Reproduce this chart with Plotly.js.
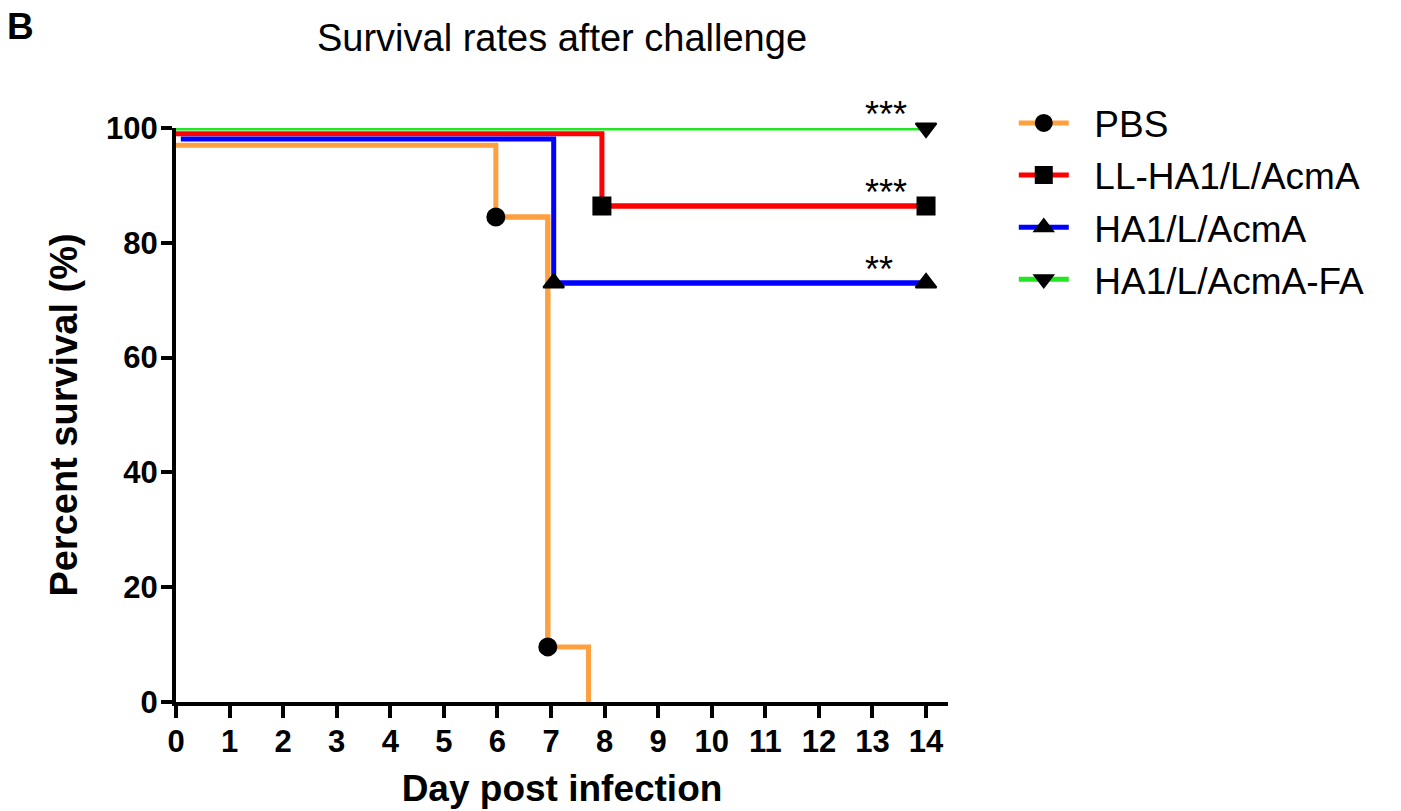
<!DOCTYPE html>
<html>
<head>
<meta charset="utf-8">
<script src="https://cdn.plot.ly/plotly-3.0.1.min.js"></script>
<style>html,body{margin:0;padding:0;background:#fff;}#chart{width:1401px;height:811px;}</style>
</head>
<body>
<div id="chart"></div>
<script>
// ---- data ----
const seriesNames = ["PBS", "LL-HA1/L/AcmA", "HA1/L/AcmA", "HA1/L/AcmA-FA"];
// full Kaplan-Meier step curves (day, percent survival)
const pbsDays = [0, 5.97, 6.94, 7.7];
const pbsSurv = [97, 84.5, 9.6, 0];
const llDays = [0, 7.95, 14];
const llSurv = [99, 86.4, 86.4];
const ha1Days = [0.09, 7.05, 14];
const ha1Surv = [98.1, 73, 73];
const faDays = [0, 14];
const faSurv = [100, 100];
// marked points
const pbsMarkDays = [5.97, 6.94];
const pbsMarkSurv = [84.5, 9.6];
const llMarkDays = [7.95, 14];
const llMarkSurv = [86.4, 86.4];
const ha1MarkDays = [7.05, 14];
const ha1MarkSurv = [73, 73];
const faMarkDays = [14];
const faMarkSurv = [100];
// significance labels (one per series, PBS has none)
const sigLabels = ["", "***", "**", "***"];
const xTicks = [0,1,2,3,4,5,6,7,8,9,10,11,12,13,14];
const yTicks = [0,20,40,60,80,100];

const FONT = "Liberation Sans, Arial, Helvetica, sans-serif";
const colors = ["#FFA040", "#FF0000", "#0000FF", "#22E622"];
const symbols = ["circle", "square", "triangle-up", "triangle-down"];
const msizes = [17, 17, 18, 18];
const NBSP = "\u00A0";

const lineSets = [[pbsDays, pbsSurv], [llDays, llSurv], [ha1Days, ha1Surv], [faDays, faSurv]];
const markSets = [[pbsMarkDays, pbsMarkSurv], [llMarkDays, llMarkSurv], [ha1MarkDays, ha1MarkSurv], [faMarkDays, faMarkSurv]];

const traces = [];
lineSets.forEach((s, i) => {
  traces.push({
    type: "scatter", mode: "lines", x: s[0], y: s[1],
    line: {color: colors[i], width: 5, shape: "hv"},
    showlegend: false, legendgroup: "g" + i, cliponaxis: false, hoverinfo: "skip"
  });
});
markSets.forEach((s, i) => {
  traces.push({
    type: "scatter", mode: "lines+markers", x: s[0], y: s[1], name: NBSP + NBSP + seriesNames[i],
    line: {color: colors[i], width: 5, shape: "hv"},
    marker: {symbol: symbols[i], size: msizes[i], color: "#000000", line: {width: 2, color: "#000000"}},
    legendgroup: "g" + i, cliponaxis: false
  });
});

// significance annotations placed just above the last point of each series
const annotations = [
  {text: "B", xref: "paper", yref: "paper", x: -0.2008, y: 1.1777, xanchor: "center", yanchor: "middle",
   showarrow: false, font: {family: FONT, size: 37, weight: "bold", color: "#000000"}}
];
markSets.forEach((s, i) => {
  if (!sigLabels[i]) return;
  const n = s[0].length - 1;
  annotations.push({
    text: sigLabels[i], xref: "x", yref: "y", x: 12.82, y: s[1][n], xanchor: "left", yanchor: "middle",
    yshift: 13.5, showarrow: false, font: {family: FONT, size: 36, color: "#000000"}
  });
});

const layout = {
  width: 1401, height: 811,
  paper_bgcolor: "#ffffff", plot_bgcolor: "#ffffff",
  margin: {l: 176, r: 453, t: 128, b: 109},
  font: {family: FONT, color: "#000000"},
  title: {
    text: "Survival rates after challenge",
    font: {family: FONT, size: 38, color: "#000000"},
    x: 0.5, xref: "paper", xanchor: "center",
    y: 0.954, yref: "container", yanchor: "middle"
  },
  xaxis: {
    range: [0, 14.41], tickmode: "array", tickvals: xTicks, ticktext: xTicks.map(String),
    showgrid: false, zeroline: false, showline: true, linewidth: 4, linecolor: "#000000",
    ticks: "outside", ticklen: 12, tickwidth: 4, tickcolor: "#000000",
    tickfont: {family: FONT, size: 31, weight: "bold", color: "#000000"},
    ticklabelstandoff: -3,
    title: {text: "Day post infection", font: {family: FONT, size: 37, weight: "bold", color: "#000000"}, standoff: 18},
    fixedrange: true
  },
  yaxis: {
    range: [0, 100], tickmode: "array", tickvals: yTicks, ticktext: yTicks.map(String),
    showgrid: false, zeroline: false, showline: true, linewidth: 4, linecolor: "#000000",
    ticks: "outside", ticklen: 11, tickwidth: 4, tickcolor: "#000000",
    tickfont: {family: FONT, size: 31, weight: "bold", color: "#000000"},
    ticklabelstandoff: -3,
    title: {text: "Percent survival (%)", font: {family: FONT, size: 38, weight: "bold", color: "#000000"}, standoff: 18},
    fixedrange: true
  },
  legend: {
    x: 1.0852, xanchor: "left", y: 1.062, yanchor: "top",
    font: {family: FONT, size: 37, color: "#000000"},
    itemwidth: 50, tracegroupgap: 1, bgcolor: "rgba(0,0,0,0)", borderwidth: 0,
    traceorder: "grouped"
  },
  annotations: annotations,
  showlegend: true
};

Plotly.newPlot("chart", traces, layout, {displayModeBar: false, staticPlot: true});
</script>
</body>
</html>
